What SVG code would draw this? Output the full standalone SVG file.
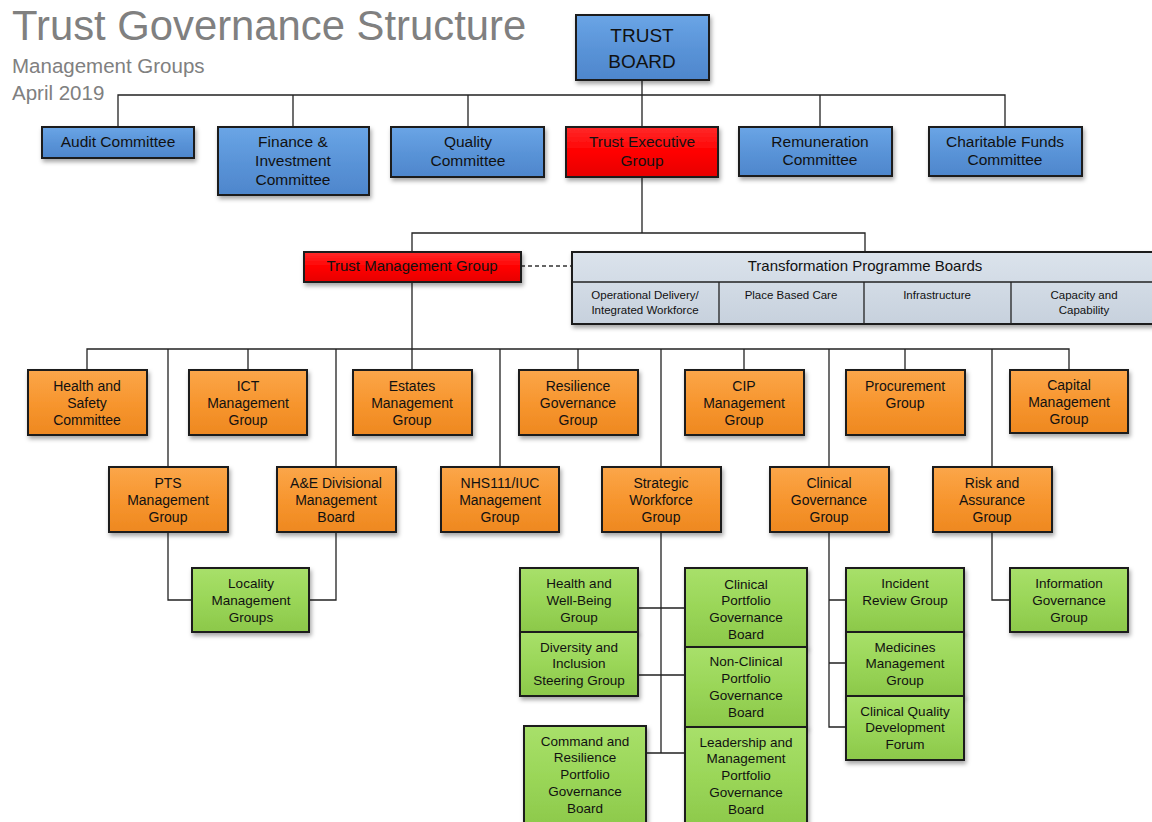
<svg xmlns="http://www.w3.org/2000/svg" width="1152" height="822" viewBox="0 0 1152 822">
<defs>
<linearGradient id="gBlue" x1="0" y1="0" x2="0" y2="1"><stop offset="0" stop-color="#6aa5e6"/><stop offset="0.5" stop-color="#5a94d8"/><stop offset="1" stop-color="#4e86cc"/></linearGradient>
<linearGradient id="gRed" x1="0" y1="0" x2="0" y2="1"><stop offset="0" stop-color="#ff2a2a"/><stop offset="0.5" stop-color="#ff0000"/><stop offset="1" stop-color="#e60000"/></linearGradient>
<linearGradient id="gOrange" x1="0" y1="0" x2="0" y2="1"><stop offset="0" stop-color="#fba64a"/><stop offset="0.5" stop-color="#f7962f"/><stop offset="1" stop-color="#ee8820"/></linearGradient>
<linearGradient id="gGreen" x1="0" y1="0" x2="0" y2="1"><stop offset="0" stop-color="#a8e06a"/><stop offset="0.5" stop-color="#9ad658"/><stop offset="1" stop-color="#8cc84a"/></linearGradient>
<linearGradient id="gGrey" x1="0" y1="0" x2="0" y2="1"><stop offset="0" stop-color="#dbe3ec"/><stop offset="1" stop-color="#c7d1dd"/></linearGradient>
<filter id="sh" x="-10%" y="-10%" width="130%" height="140%"><feDropShadow dx="1.5" dy="3" stdDeviation="2" flood-color="#000" flood-opacity="0.35"/></filter>
<style>
.box{stroke:#1e1e1e;stroke-width:2;filter:url(#sh)}
.blue{fill:url(#gBlue)}
.red{fill:url(#gRed)}
.orange{fill:url(#gOrange)}
.green{fill:url(#gGreen)}
.grey{fill:url(#gGrey)}
text{font-family:"Liberation Sans",Arial,sans-serif;fill:#111;text-anchor:middle}
.tb{font-size:15.5px}
.tr{font-size:19px}
.to{font-size:14px}
.tg{font-size:13.5px}
.tp{font-size:15px}
.ts{font-size:11.5px}
.title{font-size:41.8px;fill:#808080;text-anchor:start}
.sub{font-size:20.5px;fill:#808080;text-anchor:start}
.ln{fill:none;stroke:#222;stroke-width:1.3}
.dash{fill:none;stroke:#333;stroke-width:1.5;stroke-dasharray:4 3}
</style>
</defs>
<rect width="1152" height="822" fill="#fff"/>
<text class="title" x="12" y="40">Trust Governance Structure</text>
<text class="sub" x="12" y="73">Management Groups</text>
<text class="sub" x="12" y="100">April 2019</text>

<g id="connectors">
<path class="ln" d="M642 80V127M118 127V95H1005V127M293 95V127M468 95V127M820 95V127"/>
<path class="ln" d="M642 177V233M412 252V233H865V252"/>
<path class="dash" d="M521 266H572"/>
<path class="ln" d="M412 282V370M87 370V349H1069V370M248 349V370M578 349V370M744 349V370M905 349V370"/>
<path class="ln" d="M168 349V467M336 349V467M500 349V467M661 349V467M829 349V467M992 349V467"/>
<path class="ln" d="M168 532V600H192M336 532V600H309"/>
<path class="ln" d="M661 532V753M638 608H685M638 675H685M646 753H686"/>
<path class="ln" d="M829 532V727H846M829 600H846M829 663H846"/>
<path class="ln" d="M992 532V600H1010"/>
</g>

<g id="trust-board"><rect class="box blue" x="576" y="15" width="133" height="65"/><text class="tr" x="642" y="42">TRUST</text><text class="tr" x="642" y="68">BOARD</text></g>

<g id="audit"><rect class="box blue" x="42" y="127" width="152" height="31"/><text class="tb" x="118" y="147">Audit Committee</text></g>
<g id="finance"><rect class="box blue" x="218" y="127" width="151" height="68"/><text class="tb" x="293" y="147">Finance &amp;</text><text class="tb" x="293" y="166">Investment</text><text class="tb" x="293" y="185">Committee</text></g>
<g id="quality"><rect class="box blue" x="391" y="127" width="153" height="50"/><text class="tb" x="468" y="147">Quality</text><text class="tb" x="468" y="166">Committee</text></g>
<g id="trust-exec"><rect class="box red" x="566" y="127" width="152" height="50"/><text class="tb" x="642" y="147">Trust Executive</text><text class="tb" x="642" y="166">Group</text></g>
<g id="remuneration"><rect class="box blue" x="739" y="127" width="153" height="49"/><text class="tb" x="820" y="147">Remuneration</text><text class="tb" x="820" y="165">Committee</text></g>
<g id="charitable"><rect class="box blue" x="929" y="127" width="153" height="49"/><text class="tb" x="1005" y="147">Charitable Funds</text><text class="tb" x="1005" y="165">Committee</text></g>

<g id="trust-mgmt"><rect class="box red" x="304" y="252" width="217" height="30"/><text class="tp" x="412" y="271">Trust Management Group</text></g>

<g id="tpb">
<rect class="box grey" x="572" y="252" width="586" height="72"/>
<path class="ln" stroke-width="2" d="M572 282H1158M719 282V324M864 282V324M1011 282V324"/>
<text class="tp" x="865" y="271">Transformation Programme Boards</text>
<text class="ts" x="645" y="299">Operational Delivery/</text><text class="ts" x="645" y="314">Integrated Workforce</text>
<text class="ts" x="791" y="299">Place Based Care</text>
<text class="ts" x="937" y="299">Infrastructure</text>
<text class="ts" x="1084" y="299">Capacity and</text><text class="ts" x="1084" y="314">Capability</text>
</g>

<g id="health-safety"><rect class="box orange" x="28" y="370" width="119" height="65"/><text class="to" x="87" y="391">Health and</text><text class="to" x="87" y="408">Safety</text><text class="to" x="87" y="425">Committee</text></g>
<g id="ict"><rect class="box orange" x="189" y="370" width="118" height="65"/><text class="to" x="248" y="391">ICT</text><text class="to" x="248" y="408">Management</text><text class="to" x="248" y="425">Group</text></g>
<g id="estates"><rect class="box orange" x="353" y="370" width="119" height="65"/><text class="to" x="412" y="391">Estates</text><text class="to" x="412" y="408">Management</text><text class="to" x="412" y="425">Group</text></g>
<g id="resilience"><rect class="box orange" x="519" y="370" width="119" height="65"/><text class="to" x="578" y="391">Resilience</text><text class="to" x="578" y="408">Governance</text><text class="to" x="578" y="425">Group</text></g>
<g id="cip"><rect class="box orange" x="685" y="370" width="119" height="65"/><text class="to" x="744" y="391">CIP</text><text class="to" x="744" y="408">Management</text><text class="to" x="744" y="425">Group</text></g>
<g id="procurement"><rect class="box orange" x="846" y="370" width="119" height="65"/><text class="to" x="905" y="391">Procurement</text><text class="to" x="905" y="408">Group</text></g>
<g id="capital"><rect class="box orange" x="1010" y="370" width="118" height="63"/><text class="to" x="1069" y="390">Capital</text><text class="to" x="1069" y="407">Management</text><text class="to" x="1069" y="424">Group</text></g>

<g id="pts"><rect class="box orange" x="109" y="467" width="119" height="65"/><text class="to" x="168" y="488">PTS</text><text class="to" x="168" y="505">Management</text><text class="to" x="168" y="522">Group</text></g>
<g id="ae"><rect class="box orange" x="277" y="467" width="119" height="65"/><text class="to" x="336" y="488">A&amp;E Divisional</text><text class="to" x="336" y="505">Management</text><text class="to" x="336" y="522">Board</text></g>
<g id="nhs111"><rect class="box orange" x="441" y="467" width="118" height="65"/><text class="to" x="500" y="488">NHS111/IUC</text><text class="to" x="500" y="505">Management</text><text class="to" x="500" y="522">Group</text></g>
<g id="strategic"><rect class="box orange" x="602" y="467" width="119" height="65"/><text class="to" x="661" y="488">Strategic</text><text class="to" x="661" y="505">Workforce</text><text class="to" x="661" y="522">Group</text></g>
<g id="clinical-gov"><rect class="box orange" x="770" y="467" width="119" height="65"/><text class="to" x="829" y="488">Clinical</text><text class="to" x="829" y="505">Governance</text><text class="to" x="829" y="522">Group</text></g>
<g id="risk"><rect class="box orange" x="933" y="467" width="119" height="65"/><text class="to" x="992" y="488">Risk and</text><text class="to" x="992" y="505">Assurance</text><text class="to" x="992" y="522">Group</text></g>

<g id="locality"><rect class="box green" x="192" y="568" width="117" height="64"/><text class="tg" x="251" y="588">Locality</text><text class="tg" x="251" y="605">Management</text><text class="tg" x="251" y="622">Groups</text></g>

<g id="health-wellbeing"><rect class="box green" x="520" y="568" width="118" height="64"/><text class="tg" x="579" y="588">Health and</text><text class="tg" x="579" y="605">Well-Being</text><text class="tg" x="579" y="622">Group</text></g>
<g id="diversity"><rect class="box green" x="520" y="632" width="118" height="64"/><text class="tg" x="579" y="652">Diversity and</text><text class="tg" x="579" y="668">Inclusion</text><text class="tg" x="579" y="685">Steering Group</text></g>
<g id="command"><rect class="box green" x="524" y="726" width="122" height="104"/><text class="tg" x="585" y="746">Command and</text><text class="tg" x="585" y="762">Resilience</text><text class="tg" x="585" y="779">Portfolio</text><text class="tg" x="585" y="796">Governance</text><text class="tg" x="585" y="813">Board</text></g>
<g id="clinical-portfolio"><rect class="box green" x="685" y="568" width="122" height="79"/><text class="tg" x="746" y="589">Clinical</text><text class="tg" x="746" y="605">Portfolio</text><text class="tg" x="746" y="622">Governance</text><text class="tg" x="746" y="639">Board</text></g>
<g id="non-clinical"><rect class="box green" x="685" y="647" width="122" height="80"/><text class="tg" x="746" y="666">Non-Clinical</text><text class="tg" x="746" y="683">Portfolio</text><text class="tg" x="746" y="700">Governance</text><text class="tg" x="746" y="717">Board</text></g>
<g id="leadership"><rect class="box green" x="685" y="727" width="122" height="103"/><text class="tg" x="746" y="747">Leadership and</text><text class="tg" x="746" y="763">Management</text><text class="tg" x="746" y="780">Portfolio</text><text class="tg" x="746" y="797">Governance</text><text class="tg" x="746" y="814">Board</text></g>

<g id="incident"><rect class="box green" x="846" y="568" width="118" height="64"/><text class="tg" x="905" y="588">Incident</text><text class="tg" x="905" y="605">Review Group</text></g>
<g id="medicines"><rect class="box green" x="846" y="632" width="118" height="64"/><text class="tg" x="905" y="652">Medicines</text><text class="tg" x="905" y="668">Management</text><text class="tg" x="905" y="685">Group</text></g>
<g id="cqdf"><rect class="box green" x="846" y="696" width="118" height="64"/><text class="tg" x="905" y="716">Clinical Quality</text><text class="tg" x="905" y="732">Development</text><text class="tg" x="905" y="749">Forum</text></g>
<g id="info-gov"><rect class="box green" x="1010" y="568" width="118" height="64"/><text class="tg" x="1069" y="588">Information</text><text class="tg" x="1069" y="605">Governance</text><text class="tg" x="1069" y="622">Group</text></g>
</svg>
